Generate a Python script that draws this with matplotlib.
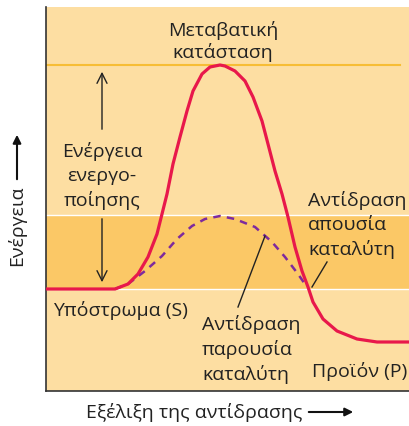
import matplotlib
matplotlib.use("Agg")
import matplotlib.pyplot as plt

# energy profile (progress 0..363, energy 0..384)
red_x = [0, 49, 69, 82, 92, 102, 111, 116, 121, 127, 134, 141, 147, 156, 164,
         174, 179, 189, 199, 207, 216, 222, 229, 236, 242, 249, 256, 262, 267,
         277, 291, 311, 331, 363]
red_y = [102, 102, 102, 107, 117, 134, 157, 177, 197, 227, 254, 280, 300, 317,
         324, 326, 325, 320, 310, 294, 270, 247, 220, 197, 174, 144, 120, 104,
         89, 72, 60, 52, 49, 49]

cat_x = [69, 82, 99, 116, 131, 146, 159, 174, 189, 209, 226, 239, 252, 261]
cat_y = [102, 107, 120, 135, 152, 165, 172, 175, 172, 164, 149, 134, 117, 104]

substrate = 102
transition = 326
catalysed_peak = 176

light = "#FDDEA2"
dark = "#FBC866"
red = "#E8184B"
purple = "#7E2A9E"
ink = "#222222"
plt.rcParams["font.family"] = ["Open Sans", "DejaVu Sans"]

W, H = 409, 427
fig = plt.figure(figsize=(W / 100, H / 100), dpi=100)
ax = fig.add_axes([46 / W, (H - 392) / H, (W - 46) / W, 384 / H])
ax.set_xlim(0, 363)
ax.set_ylim(0, 384)
ax.set_facecolor(light)

ax.axhspan(substrate, catalysed_peak, color=dark, lw=0, zorder=0)
ax.axhline(substrate, color="white", lw=1, zorder=1)
ax.axhline(catalysed_peak, color="white", lw=1, zorder=1)
ax.plot([0, 354], [transition, transition], color="#F7BD35", lw=1.5, zorder=1)

ax.plot(cat_x, cat_y, color=purple, lw=1.8, ls=(0, (3, 2.5)), zorder=3)
ax.plot(red_x, red_y, color=red, lw=2.3, zorder=4, solid_joinstyle="round")

# activation energy arrows
arr = dict(arrowstyle="->", color=ink, lw=1, mutation_scale=18)
ax.annotate("", xy=(56, 322), xytext=(56, 259), arrowprops=arr)
ax.annotate("", xy=(56, 106), xytext=(56, 175), arrowprops=arr)

fs = 14
ax.text(56, 216, "Ενέργεια\nενεργο-\nποίησης", ha="center", va="center",
        fontsize=fs, linespacing=1.4, color=ink)
ax.text(177, 351, "Μεταβατική\nκατάσταση", ha="center", va="center",
        fontsize=fs, linespacing=1.2, color=ink)
ax.text(262, 167, "Αντίδραση\nαπουσία\nκαταλύτη", ha="left", va="center",
        fontsize=fs, linespacing=1.4, color=ink)
ax.text(7, 82, "Υπόστρωμα (S)", ha="left", va="center", fontsize=fs,
        color=ink)
ax.text(156, 42, "Αντίδραση\nπαρουσία\nκαταλύτη", ha="left", va="center",
        fontsize=fs, linespacing=1.4, color=ink)
ax.text(266, 20, "Προϊόν (P)", ha="left", va="center", fontsize=fs,
        color=ink)

ax.plot([281, 266], [129, 104], color=ink, lw=1, zorder=5)
ax.plot([219, 192], [155, 84], color=ink, lw=1, zorder=5)

for s in ["top", "right"]:
    ax.spines[s].set_visible(False)
for s in ["left", "bottom"]:
    ax.spines[s].set_color("#333333")
    ax.spines[s].set_linewidth(1.2)
ax.set_xticks([])
ax.set_yticks([])

# axis labels with arrows
fig.text(86 / W, 1 - 413 / H, "Εξέλιξη της αντίδρασης", ha="left", va="center",
         fontsize=fs, color=ink)
fig.text(17 / W, 1 - 226 / H, "Ενέργεια", ha="center", va="center",
         rotation=90, fontsize=fs, color=ink)
head = dict(arrowstyle="-|>", color="#111111", lw=1.5, mutation_scale=12)
ax.annotate("", xy=(356 / W, 1 - 413 / H), xytext=(306 / W, 1 - 413 / H),
            xycoords="figure fraction", textcoords="figure fraction",
            arrowprops=head, annotation_clip=False)
ax.annotate("", xy=(17 / W, 1 - 133 / H), xytext=(17 / W, 1 - 183 / H),
            xycoords="figure fraction", textcoords="figure fraction",
            arrowprops=head, annotation_clip=False)

fig.savefig("out.png", dpi=100, facecolor="white")
